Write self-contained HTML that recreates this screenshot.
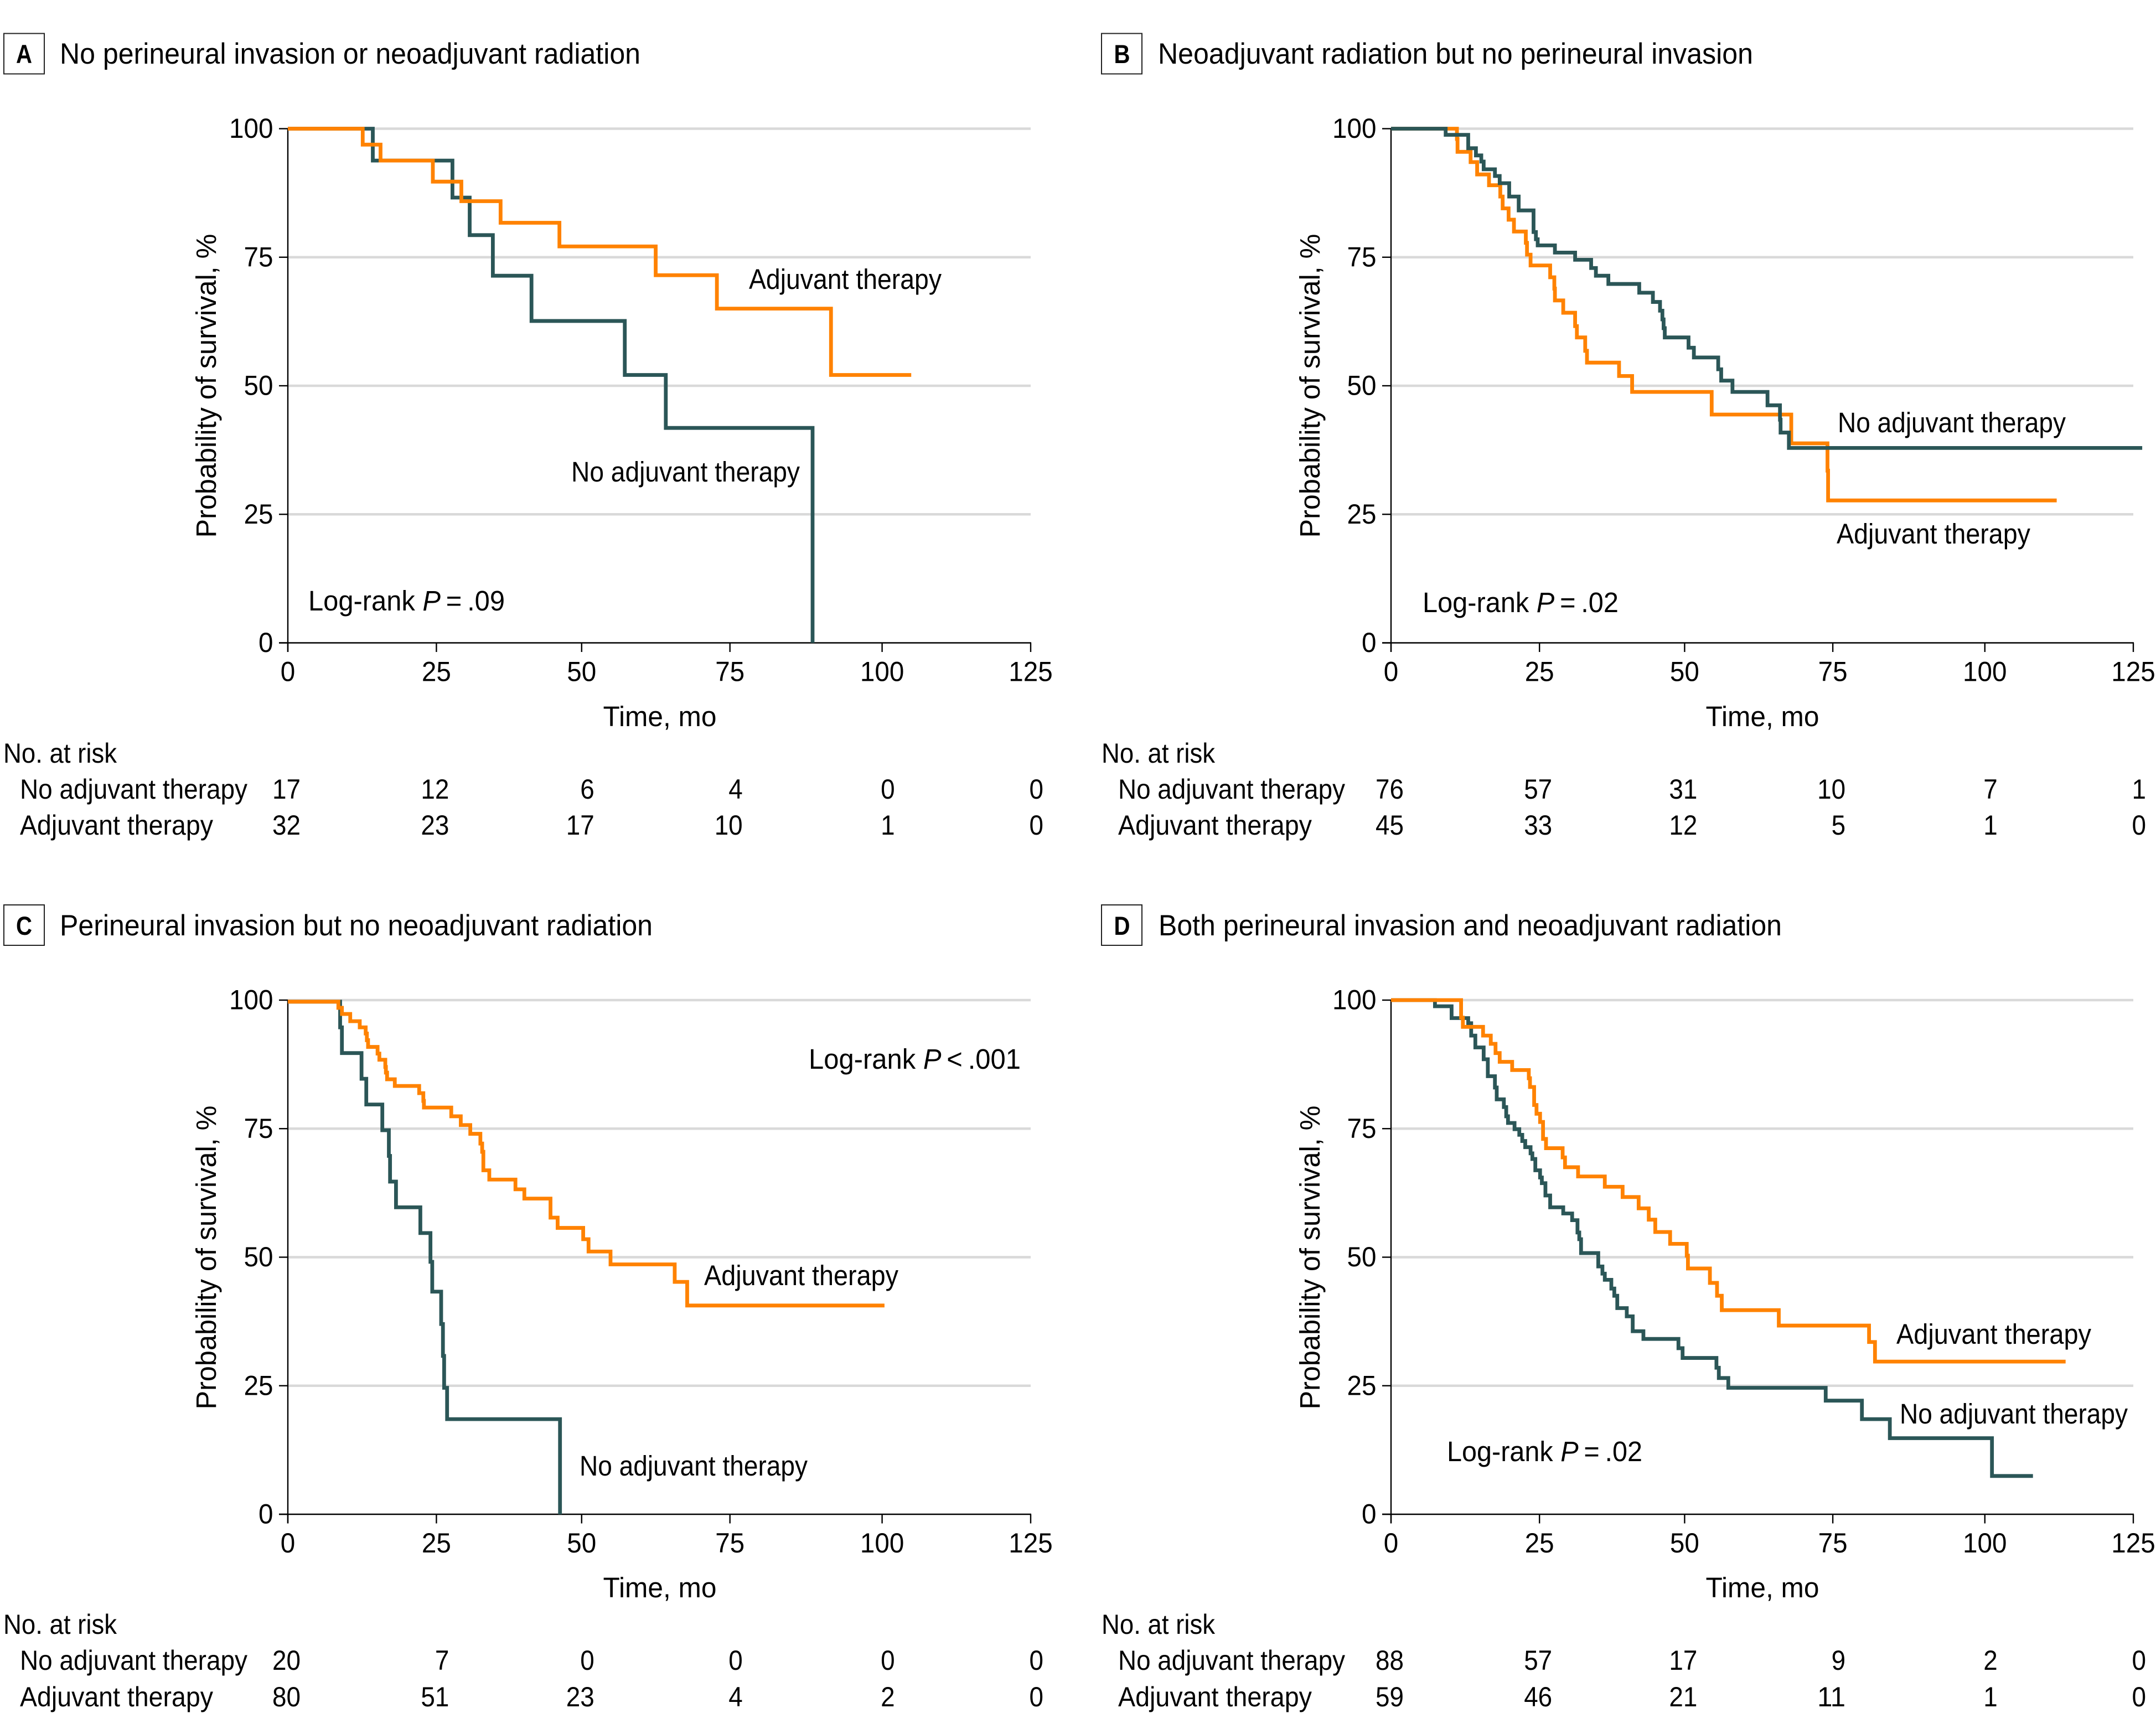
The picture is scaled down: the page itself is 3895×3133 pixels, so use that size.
<!DOCTYPE html>
<html lang="en">
<head>
<meta charset="utf-8">
<title>Kaplan-Meier survival by adjuvant therapy</title>
<style>
html,body{margin:0;padding:0;background:#fff;}
svg{display:block;}
text{font-family:"Liberation Sans",Arial,sans-serif;fill:#000;}
.title{font-size:53px;}
.body{font-size:51px;}
.risk{font-size:50px;}
.letter{font-size:47px;font-weight:bold;}
</style>
</head>
<body>
<svg id="figure" xmlns="http://www.w3.org/2000/svg" width="3895" height="3133" viewBox="0 0 3895 3133">
  <rect x="0" y="0" width="3895" height="3133" fill="#ffffff"/>

  <g id="panel-a">
    <rect x="7" y="60.5" width="73" height="73" fill="none" stroke="#222" stroke-width="2"/>
    <text class="letter" x="43.5" y="114" text-anchor="middle" textLength="29" lengthAdjust="spacingAndGlyphs">A</text>
    <text class="title" x="108" y="115" textLength="1049" lengthAdjust="spacingAndGlyphs">No perineural invasion or neoadjuvant radiation</text>
    <text class="body" transform="translate(390,697) rotate(-90)" text-anchor="middle" textLength="549" lengthAdjust="spacingAndGlyphs">Probability of survival, %</text>
    <text class="body" x="1192" y="1312" text-anchor="middle" textLength="205" lengthAdjust="spacingAndGlyphs">Time, mo</text>
    <text class="body" x="1353" y="522" textLength="348" lengthAdjust="spacingAndGlyphs">Adjuvant therapy</text>
    <text class="body" x="1032" y="870" textLength="413" lengthAdjust="spacingAndGlyphs">No adjuvant therapy</text>
    <text class="body" x="557" y="1103" textLength="355" lengthAdjust="spacingAndGlyphs">Log-rank <tspan font-style="italic">P</tspan>&#8201;=&#8201;.09</text>
    <text class="risk" x="6" y="1378" textLength="205" lengthAdjust="spacingAndGlyphs">No. at risk</text>
    <text class="risk" x="36" y="1443" textLength="411" lengthAdjust="spacingAndGlyphs">No adjuvant therapy</text>
    <text class="risk" x="36" y="1508" textLength="349" lengthAdjust="spacingAndGlyphs">Adjuvant therapy</text>
  </g>

  <g id="panel-b">
    <rect x="1990" y="60.5" width="73" height="73" fill="none" stroke="#222" stroke-width="2"/>
    <text class="letter" x="2027" y="114" text-anchor="middle" textLength="29" lengthAdjust="spacingAndGlyphs">B</text>
    <text class="title" x="2092" y="115" textLength="1075" lengthAdjust="spacingAndGlyphs">Neoadjuvant radiation but no perineural invasion</text>
    <text class="body" transform="translate(2384,697) rotate(-90)" text-anchor="middle" textLength="549" lengthAdjust="spacingAndGlyphs">Probability of survival, %</text>
    <text class="body" x="3184" y="1312" text-anchor="middle" textLength="205" lengthAdjust="spacingAndGlyphs">Time, mo</text>
    <text class="body" x="3320" y="781" textLength="412" lengthAdjust="spacingAndGlyphs">No adjuvant therapy</text>
    <text class="body" x="3318" y="982" textLength="350" lengthAdjust="spacingAndGlyphs">Adjuvant therapy</text>
    <text class="body" x="2570" y="1106" textLength="354" lengthAdjust="spacingAndGlyphs">Log-rank <tspan font-style="italic">P</tspan>&#8201;=&#8201;.02</text>
    <text class="risk" x="1990" y="1378" textLength="205" lengthAdjust="spacingAndGlyphs">No. at risk</text>
    <text class="risk" x="2020" y="1443" textLength="410" lengthAdjust="spacingAndGlyphs">No adjuvant therapy</text>
    <text class="risk" x="2020" y="1508" textLength="350" lengthAdjust="spacingAndGlyphs">Adjuvant therapy</text>
  </g>

  <g id="panel-c">
    <rect x="7" y="1635" width="73" height="73" fill="none" stroke="#222" stroke-width="2"/>
    <text class="letter" x="43.5" y="1689" text-anchor="middle" textLength="29" lengthAdjust="spacingAndGlyphs">C</text>
    <text class="title" x="108" y="1690" textLength="1071" lengthAdjust="spacingAndGlyphs">Perineural invasion but no neoadjuvant radiation</text>
    <text class="body" transform="translate(390,2272) rotate(-90)" text-anchor="middle" textLength="549" lengthAdjust="spacingAndGlyphs">Probability of survival, %</text>
    <text class="body" x="1192" y="2886" text-anchor="middle" textLength="205" lengthAdjust="spacingAndGlyphs">Time, mo</text>
    <text class="body" x="1461" y="1931" textLength="383" lengthAdjust="spacingAndGlyphs">Log-rank <tspan font-style="italic">P</tspan>&#8201;&lt;&#8201;.001</text>
    <text class="body" x="1272" y="2322" textLength="351" lengthAdjust="spacingAndGlyphs">Adjuvant therapy</text>
    <text class="body" x="1047" y="2666" textLength="412" lengthAdjust="spacingAndGlyphs">No adjuvant therapy</text>
    <text class="risk" x="6" y="2952" textLength="205" lengthAdjust="spacingAndGlyphs">No. at risk</text>
    <text class="risk" x="36" y="3017" textLength="411" lengthAdjust="spacingAndGlyphs">No adjuvant therapy</text>
    <text class="risk" x="36" y="3083" textLength="349" lengthAdjust="spacingAndGlyphs">Adjuvant therapy</text>
  </g>

  <g id="panel-d">
    <rect x="1990" y="1635" width="73" height="73" fill="none" stroke="#222" stroke-width="2"/>
    <text class="letter" x="2027" y="1689" text-anchor="middle" textLength="29" lengthAdjust="spacingAndGlyphs">D</text>
    <text class="title" x="2093" y="1690" textLength="1126" lengthAdjust="spacingAndGlyphs">Both perineural invasion and neoadjuvant radiation</text>
    <text class="body" transform="translate(2384,2272) rotate(-90)" text-anchor="middle" textLength="549" lengthAdjust="spacingAndGlyphs">Probability of survival, %</text>
    <text class="body" x="3184" y="2886" text-anchor="middle" textLength="205" lengthAdjust="spacingAndGlyphs">Time, mo</text>
    <text class="body" x="3426" y="2428" textLength="352" lengthAdjust="spacingAndGlyphs">Adjuvant therapy</text>
    <text class="body" x="3432" y="2572" textLength="412" lengthAdjust="spacingAndGlyphs">No adjuvant therapy</text>
    <text class="body" x="2614" y="2640" textLength="353" lengthAdjust="spacingAndGlyphs">Log-rank <tspan font-style="italic">P</tspan>&#8201;=&#8201;.02</text>
    <text class="risk" x="1990" y="2952" textLength="205" lengthAdjust="spacingAndGlyphs">No. at risk</text>
    <text class="risk" x="2020" y="3017" textLength="410" lengthAdjust="spacingAndGlyphs">No adjuvant therapy</text>
    <text class="risk" x="2020" y="3083" textLength="350" lengthAdjust="spacingAndGlyphs">Adjuvant therapy</text>
  </g>
</svg>

<script>
// Shared tick labels
const xTickLabels = [0, 25, 50, 75, 100, 125];
const yTickLabels = [0, 25, 50, 75, 100];

// Panel A
const aNoAdjTime = [0, 14.3, 27.7, 30.6, 34.5, 41, 56.7, 63.6, 88.3];
const aNoAdjSurv = [100, 93.8, 86.6, 79.3, 71.4, 62.6, 52.1, 41.8, 0];
const aAdjTime = [0, 12.6, 15.6, 24.4, 29.2, 35.8, 45.7, 61.9, 72.2, 91.4, 104.9];
const aAdjSurv = [100, 96.9, 93.8, 89.7, 85.9, 81.7, 77.1, 71.5, 65, 52.1, 52.1];
const aRiskNoAdj = [17, 12, 6, 4, 0, 0];
const aRiskAdj = [32, 23, 17, 10, 1, 0];

// Panel B
const bNoAdjTime = [0, 9.2, 13, 14.3, 15.2, 15.6, 17.5, 18.3, 19.9, 21.5, 24, 24.4, 24.7, 27.6, 31, 33.7, 34.5, 36.6, 41.8, 44.1, 45.3, 45.7, 45.9, 46.1, 50.1, 51, 55.1, 55.6, 57.5, 63.4, 65.5, 65.6, 67, 126.5];
const bNoAdjSurv = [100, 98.8, 96.2, 94.8, 93.6, 92.1, 90.8, 89.4, 86.8, 84.1, 79.9, 78.5, 77.3, 75.9, 74.5, 72.9, 71.4, 69.8, 68.1, 66.3, 64.6, 62.9, 61.2, 59.4, 57.4, 55.5, 53.2, 51, 48.8, 46.2, 43.4, 40.9, 37.9, 37.9];
const bAdjTime = [0, 11.1, 11.2, 13.4, 14.5, 16.5, 18.4, 18.8, 19.8, 20.7, 22.7, 22.9, 23.5, 26.8, 27.5, 27.6, 29, 31, 31.3, 32.7, 33, 38.4, 40.6, 54, 67.4, 73.5, 73.6, 112.1];
const bAdjSurv = [100, 98, 95.5, 93.5, 91.1, 89, 86.8, 84.5, 82.3, 80, 77.8, 75.5, 73.4, 71.1, 68.9, 66.6, 64.2, 61.6, 59.4, 56.8, 54.5, 51.9, 48.8, 44.4, 38.8, 33.5, 27.7, 27.7];
const bRiskNoAdj = [76, 57, 31, 10, 7, 1];
const bRiskAdj = [45, 33, 12, 5, 1, 0];

// Panel C
const cNoAdjTime = [0, 8.8, 9.1, 12.4, 13.2, 15.9, 17, 17.2, 18.2, 22.3, 24, 24.3, 25.8, 26.1, 26.3, 26.8, 45.8];
const cNoAdjSurv = [99.7, 94.7, 89.7, 84.7, 79.7, 74.7, 69.7, 64.7, 59.7, 54.7, 49.1, 43.3, 37, 30.8, 24.6, 18.5, 0];
const cAdjTime = [0, 8.5, 9.1, 10.5, 12.1, 13.1, 13.3, 13.5, 15.1, 15.4, 16.4, 16.5, 16.7, 18, 22.1, 22.8, 22.9, 27.5, 29.1, 30.7, 32.4, 32.7, 32.9, 33.9, 38.3, 39.8, 44.2, 45.4, 49.7, 50.6, 54.3, 65.1, 67.2, 100.4];
const cAdjSurv = [99.7, 98.5, 97.3, 95.9, 94.7, 93.5, 92.2, 90.9, 89.6, 88.4, 87, 85.9, 84.6, 83.3, 81.9, 80.4, 79.1, 77.4, 75.7, 74, 72.1, 70.5, 66.9, 65.1, 63.2, 61.4, 57.7, 55.7, 53.5, 51.1, 48.6, 45.2, 40.6, 40.6];
const cRiskNoAdj = [20, 7, 0, 0, 0, 0];
const cRiskAdj = [80, 51, 23, 4, 2, 0];

// Panel D
const dNoAdjTime = [0, 7.4, 10.2, 13, 13.5, 14.2, 15.6, 16.3, 17.5, 17.8, 19, 19.4, 19.7, 20.8, 21.6, 22.1, 22.6, 23.5, 23.8, 24.3, 25.1, 25.4, 26, 26.8, 29, 30.5, 31.4, 31.7, 32, 34.9, 35.6, 36, 37.1, 37.6, 38.1, 39.7, 40.7, 42.5, 48.4, 49.1, 54.8, 55.2, 56.8, 73.2, 79.3, 84, 101.2, 108.1];
const dNoAdjSurv = [100, 98.8, 96.5, 95.5, 93.1, 90.8, 88.5, 85.2, 83, 80.7, 79.2, 77.4, 76.1, 74.9, 73.8, 72.6, 71.4, 70.2, 69.1, 66.9, 65.5, 64.4, 62, 59.7, 58.5, 57.2, 54.8, 53.5, 50.8, 48.2, 46.8, 45.6, 43.9, 42.5, 40.1, 38.5, 35.6, 34.1, 32.3, 30.4, 28.5, 26.5, 24.6, 22.1, 18.5, 14.8, 7.45, 7.45];
const dAdjTime = [0, 11.8, 12.1, 15.5, 16.8, 17.6, 18.3, 20.4, 23.2, 23.4, 24.1, 24.5, 25.1, 25.6, 26.1, 28.9, 29.3, 31.5, 36, 39, 41.7, 43.4, 44.5, 47, 49.8, 50, 53.7, 54.9, 55.7, 65.3, 80.5, 81.5, 113.6];
const dAdjSurv = [100, 96.6, 94.8, 93.1, 91.5, 89.7, 88, 86.4, 84.8, 83.1, 79.6, 77.9, 76.3, 73, 71.2, 69.4, 67.5, 65.7, 63.7, 61.7, 59.5, 57.3, 54.9, 52.6, 50.3, 47.8, 45, 42.5, 39.7, 36.7, 33.5, 29.7, 29.7];
const dRiskNoAdj = [88, 57, 17, 9, 2, 0];
const dRiskAdj = [59, 46, 21, 11, 1, 0];

// Drawing
const SVG_NS = 'http://www.w3.org/2000/svg';
const DARK = '#2b5657';
const ORANGE = '#ff8200';
const X_MAX = 125;
const Y_MAX = 100;

function shape(tag, attrs, parent) {
  const el = document.createElementNS(SVG_NS, tag);
  Object.keys(attrs).forEach(function (k) { el.setAttribute(k, attrs[k]); });
  parent.appendChild(el);
  return el;
}

function stepPath(times, survs, xScale, yScale) {
  let d = 'M' + xScale(times[0]).toFixed(2) + ' ' + yScale(survs[0]).toFixed(2);
  for (let i = 1; i < times.length; i++) {
    d += 'H' + xScale(times[i]).toFixed(2) + 'V' + yScale(survs[i]).toFixed(2);
  }
  return d;
}

// The printed 50 and 75 ticks sit a few pixels left of their linear position.
function tickShift(v) {
  return v === 50 ? -6 : (v === 75 ? -6.5 : 0);
}

function drawPanel(cfg) {
  const root = document.getElementById(cfg.id);
  const layer = document.createElementNS(SVG_NS, 'g');
  
  
  root.insertBefore(layer, root.firstChild);

  const xScale = function (t) { return cfg.left + t * (cfg.right - cfg.left) / X_MAX; };
  const yScale = function (s) { return cfg.bottom - s * (cfg.bottom - cfg.top) / Y_MAX; };
  const tickX = function (v) { return xScale(v) + tickShift(v); };

  yTickLabels.forEach(function (v) {
    if (v > 0) {
      const grid = shape('line', { x1: xScale(0), x2: xScale(X_MAX), y1: yScale(v), y2: yScale(v), stroke: '#d9d9d9', 'stroke-width': 4.4 }, layer);
      
      
    }
  });

  const yAxis = shape('line', { x1: xScale(0), x2: xScale(0), y1: yScale(Y_MAX), y2: yScale(0) + 16.5, stroke: '#000', 'stroke-width': 2.4 }, layer);
  
  

  const xAxis = shape('line', { x1: xScale(0) - 16, x2: xScale(X_MAX) + 1, y1: yScale(0), y2: yScale(0), stroke: '#000', 'stroke-width': 2.4 }, layer);
  
  

  yTickLabels.forEach(function (v) {
    const tick = shape('line', { x1: xScale(0) - 16, x2: xScale(0), y1: yScale(v), y2: yScale(v), stroke: '#000', 'stroke-width': 2.4 }, layer);
    
    
    const s = String(v);
    const label = shape('text', { x: xScale(0) - 26.5, y: yScale(v) + 16.5, 'text-anchor': 'end', 'font-size': 50, textLength: 26.5 * s.length, lengthAdjust: 'spacingAndGlyphs' }, layer);
    label.textContent = s;
    
    
  });

  xTickLabels.forEach(function (v) {
    const tick = shape('line', { x1: tickX(v), x2: tickX(v), y1: yScale(0), y2: yScale(0) + 16.5, stroke: '#000', 'stroke-width': 2.4 }, layer);
    
    
    const s = String(v);
    const label = shape('text', { x: tickX(v), y: yScale(0) + 69, 'text-anchor': 'middle', 'font-size': 50, textLength: 26.5 * s.length, lengthAdjust: 'spacingAndGlyphs' }, layer);
    label.textContent = s;
    
    
  });

  const drawCurve = function (times, survs, color, name) {
    const curve = shape('path', { d: stepPath(times, survs, xScale, yScale), fill: 'none', stroke: color, 'stroke-width': 6.8, 'stroke-linejoin': 'miter', 'stroke-miterlimit': 4 }, layer);
    
    
  };

  if (cfg.darkOnTop) {
    drawCurve(cfg.adjTime, cfg.adjSurv, ORANGE, 'curve-adjuvant-therapy');
    drawCurve(cfg.noAdjTime, cfg.noAdjSurv, DARK, 'curve-no-adjuvant-therapy');
  } else {
    drawCurve(cfg.noAdjTime, cfg.noAdjSurv, DARK, 'curve-no-adjuvant-therapy');
    drawCurve(cfg.adjTime, cfg.adjSurv, ORANGE, 'curve-adjuvant-therapy');
  }

  xTickLabels.forEach(function (v, i) {
    [cfg.riskNoAdj, cfg.riskAdj].forEach(function (row, r) {
      const s = String(row[i]);
      const cell = shape('text', { x: tickX(v) + 23, y: cfg.riskRows[r], 'text-anchor': 'end', 'font-size': 50, textLength: 25.5 * s.length, lengthAdjust: 'spacingAndGlyphs' }, layer);
      cell.textContent = s;
      
      
    });
  });
}

drawPanel({ id: 'panel-a', key: 'panel-a', left: 520, right: 1862, top: 232.5, bottom: 1161.5, riskRows: [1443, 1508], darkOnTop: false,
  noAdjTime: aNoAdjTime, noAdjSurv: aNoAdjSurv, adjTime: aAdjTime, adjSurv: aAdjSurv, riskNoAdj: aRiskNoAdj, riskAdj: aRiskAdj });
drawPanel({ id: 'panel-b', key: 'panel-b', left: 2513, right: 3854, top: 232.5, bottom: 1161.5, riskRows: [1443, 1508], darkOnTop: true,
  noAdjTime: bNoAdjTime, noAdjSurv: bNoAdjSurv, adjTime: bAdjTime, adjSurv: bAdjSurv, riskNoAdj: bRiskNoAdj, riskAdj: bRiskAdj });
drawPanel({ id: 'panel-c', key: 'panel-c', left: 520, right: 1862, top: 1807, bottom: 2736, riskRows: [3017, 3083], darkOnTop: false,
  noAdjTime: cNoAdjTime, noAdjSurv: cNoAdjSurv, adjTime: cAdjTime, adjSurv: cAdjSurv, riskNoAdj: cRiskNoAdj, riskAdj: cRiskAdj });
drawPanel({ id: 'panel-d', key: 'panel-d', left: 2513, right: 3854, top: 1807, bottom: 2736, riskRows: [3017, 3083], darkOnTop: false,
  noAdjTime: dNoAdjTime, noAdjSurv: dNoAdjSurv, adjTime: dAdjTime, adjSurv: dAdjSurv, riskNoAdj: dRiskNoAdj, riskAdj: dRiskAdj });
</script>
</body>
</html>
